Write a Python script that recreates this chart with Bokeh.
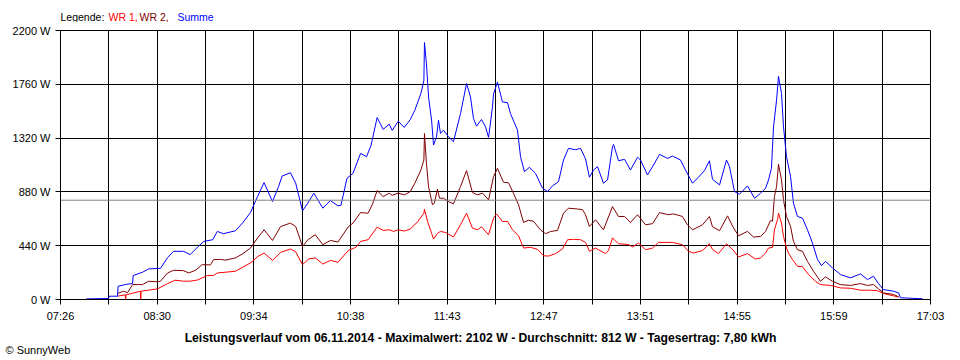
from bokeh.plotting import figure
from bokeh.layouts import column
from bokeh.models import (Range1d, FixedTicker, CustomJSTickFormatter,
                          PrintfTickFormatter, Span, Label)
from bokeh.embed import file_html
from bokeh.resources import INLINE

# ---------------- data ----------------
x_labels = ["07:26", "08:30", "09:34", "10:38", "11:43", "12:47",
            "13:51", "14:55", "15:59", "17:03"]
y_ticks = [0, 440, 880, 1320, 1760, 2200]
avg_w = 812
legend_texts = ["Legende:", "WR 1,", "WR 2,", "Summe"]
legend_colors = ["black", "#FF0000", "#800000", "#0000FF"]
title_text = ("Leistungsverlauf vom 06.11.2014 - Maximalwert: 2102 W - "
              "Durchschnitt: 812 W - Tagesertrag: 7,80 kWh")
copyright_text = "\u00a9 SunnyWeb"

# Summe (minutes after midnight, W)
sum_t = [463.2, 477.8, 478.5, 483.8, 484.2, 490, 493.8, 494.2, 500.4, 504.4,
         512.3, 517, 521, 527.6, 532, 537, 541, 547, 550, 554,
         562, 566.7, 572, 576.7, 581, 586.6, 590.6, 593, 598.5, 602,
         606.5, 610, 614, 620, 625, 630, 632, 636, 640, 645,
         649, 652, 656, 660, 664, 666, 670, 674, 678, 681,
         685, 687, 687.4, 688.7, 690.1, 692.1, 693.4, 695.4, 696.7, 698,
         700, 703.3, 706.6, 711.3, 715.3, 717.9, 719.9, 721.9, 725.2, 727.9,
         729.9, 732.5, 733.2, 735.8, 739.1, 742.5, 744.4, 749.1, 751.1, 753.7,
         757, 761, 765.7, 769, 772.3, 776.3, 779.6, 782.9, 787.6, 790.9,
         794.2, 796.8, 799.5, 802.2, 806.1, 808.8, 812.1, 812.8, 816.1, 820.1,
         824, 828.7, 830.7, 835.3, 839.3, 843.3, 848.6, 851.9, 857.2, 860.5,
         865.2, 869.1, 873.1, 876.4, 878.4, 883.1, 887.7, 889.7, 893, 896.3,
         901.6, 906.3, 910.3, 913.6, 915.6, 917.5, 918.9, 920.9, 922.2, 924.2,
         925.5, 927.5, 930.2, 932.1, 934.8, 938.1, 941.4, 944.7, 948.1, 950.7,
         953.4, 958, 963.3, 969.9, 976.6, 981.2, 985.2, 988.5, 991.8, 998.5,
         1001.8, 1003.1, 1017.7]
sum_w = [5, 8, 27, 27, 108, 125, 130, 196, 223, 250,
         255, 342, 394, 394, 367, 429, 475, 489, 557, 538,
         562, 625, 711, 842, 956, 801, 923, 1010, 1037, 951,
         725, 788, 869, 747, 809, 766, 770, 991, 1032, 1195,
         1168, 1263, 1488, 1391, 1434, 1383, 1458, 1407, 1472, 1548,
         1684, 1792, 2102, 1928, 1657, 1467, 1263, 1330, 1467, 1358,
         1385, 1331, 1290, 1521, 1766, 1657, 1480, 1418, 1472, 1412,
         1326, 1575, 1680, 1779, 1616, 1610, 1521, 1385, 1168, 1046,
         1081, 1032, 910, 883, 929, 964, 1141, 1236, 1225, 1236,
         1150, 1000, 1059, 1086, 951, 978, 1249, 1268, 1135, 1146,
         1059, 1163, 1140, 1018, 1100, 1187, 1154, 1173, 1141, 1059,
         951, 1000, 1054, 1135, 983, 937, 1141, 1086, 883, 861,
         929, 828, 869, 910, 978, 1073, 1412, 1630, 1825, 1684,
         1412, 1168, 1005, 788, 679, 665, 570, 462, 326, 277,
         312, 258, 204, 177, 209, 163, 190, 130, 81, 68,
         54, 14, 6]

# WR 2
wr2_t = [483.8, 487.8, 490.4, 493.8, 500.4, 504.4, 510.3, 512.3, 517, 521,
         527.6, 531, 535.5, 540, 545.5, 547.5, 552, 555.4, 562, 567,
         572, 576.7, 581, 586.6, 592, 598.5, 602, 606.5, 610, 615,
         620, 625, 630, 637, 640, 645, 650, 653, 656, 660,
         664, 666, 670, 674, 678, 681, 685, 687, 687.4, 688.7,
         690.1, 692.7, 694, 696, 697.4, 700, 703.3, 706.6, 711.3, 715.3,
         719.2, 722.6, 725.9, 729.9, 733.2, 735.8, 739.8, 743.1, 746.4, 749.8,
         753.1, 756.4, 759.7, 764.3, 767.7, 771, 775.6, 779.6, 782.9, 788.9,
         792.2, 794.2, 796.8, 800.8, 806.1, 812.1, 816.1, 820.1, 824, 828.7,
         834, 838.6, 843.3, 849.2, 852.6, 858.5, 861.8, 865.2, 871.8, 876.4,
         878.4, 883.1, 888.4, 891.7, 895.7, 901.6, 905.6, 910.3, 913.6, 916.9,
         918.2, 919.5, 920.9, 922.2, 924.2, 925.5, 927.5, 930.2, 932.1, 934.8,
         938.1, 941.4, 945.4, 950, 953.4, 958, 963.3, 969.9, 976.6, 981.2,
         985.2, 988.5, 991.8, 998.5, 1001.8]
wr2_w = [49, 68, 55, 122, 122, 149, 145, 149, 217, 239,
         236, 217, 239, 285, 283, 326, 328, 322, 340, 375,
         421, 503, 570, 483, 597, 625, 597, 434, 488, 530,
         448, 483, 470, 597, 625, 711, 706, 782, 891, 842,
         869, 852, 870, 855, 883, 951, 1059, 1141, 1358, 1114,
         923, 774, 790, 902, 828, 828, 801, 782, 923, 1054,
         875, 856, 870, 815, 1005, 1073, 959, 955, 869, 774,
         630, 648, 640, 570, 538, 556, 565, 706, 747, 740,
         735, 693, 597, 652, 570, 760, 679, 679, 630, 693,
         611, 620, 711, 693, 700, 679, 611, 570, 611, 679,
         595, 563, 684, 600, 521, 557, 511, 516, 557, 646,
         640, 842, 923, 1106, 978, 815, 679, 597, 475, 407,
         394, 312, 231, 149, 185, 149, 122, 115, 130, 115,
         122, 87, 54, 41, 22]

# WR 1
wr1_t = [483.8, 488.9, 489.2, 489.5, 490.4, 499, 499.2, 499.5, 510.3, 517,
         522, 527.6, 532, 537, 543.5, 547.5, 550, 562, 572, 577,
         581, 586.6, 592, 598.5, 602, 606.5, 610.5, 615, 620, 625,
         630, 637, 642, 645, 650, 656, 660, 664, 667, 670,
         674, 678, 683, 687, 687.4, 689.4, 692.1, 693.4, 696, 698,
         701.3, 706.6, 711.3, 715.3, 719.2, 722.6, 725.2, 729.9, 733.2, 735.2,
         739.1, 742.5, 745.8, 749.8, 753.1, 757.7, 762.4, 766.3, 769.6, 774.3,
         778.9, 782.3, 786.2, 790.9, 794.2, 796.8, 800.8, 807.5, 809.4, 812.1,
         816.1, 822.7, 825.4, 829.3, 834, 838.6, 842.6, 851.9, 858.5, 862.5,
         865.8, 871.8, 876.4, 878.4, 882.4, 887.7, 891.7, 895.7, 901.6, 906.9,
         910.3, 913.6, 915.6, 918.2, 919.5, 921.5, 922.2, 924.2, 925.5, 927.5,
         928.8, 931.5, 934.8, 938.1, 942.1, 946.7, 950, 956.7, 963.3, 969.9,
         976.6, 983.2, 987.9, 991.8, 998.5, 1001.8]
wr1_w = [27, 38, 0, 40, 41, 68, 0, 68, 87, 130,
         158, 150, 150, 160, 196, 196, 217, 231, 299, 353,
         380, 320, 386, 413, 390, 285, 331, 340, 290, 320,
         305, 402, 427, 475, 489, 592, 565, 570, 557, 570,
         560, 576, 638, 706, 739, 640, 543, 494, 540, 557,
         548, 511, 611, 706, 584, 570, 594, 530, 666, 700,
         638, 638, 570, 521, 421, 427, 410, 358, 355, 375,
         413, 489, 492, 489, 467, 394, 421, 375, 400, 503,
         456, 450, 430, 462, 407, 420, 467, 467, 448, 394,
         380, 400, 456, 410, 375, 456, 410, 348, 375, 331,
         340, 380, 421, 426, 570, 652, 706, 625, 516, 421,
         380, 326, 272, 268, 204, 149, 122, 115, 95, 92,
         76, 76, 72, 49, 30, 20]

# ---------------- helpers ----------------
def hm(s):
    h, m = s.split(":")
    return int(h) * 60 + int(m)

t0 = hm(x_labels[0])
t1 = hm(x_labels[-1])
dt = (t1 - t0) / (len(x_labels) - 1)
major = [t0 + i * dt for i in range(len(x_labels))]
minor = [t0 + (i + 0.5) * dt for i in range(len(x_labels) - 1)]

FONT = "Liberation Sans"
W = 960


def text_strip(height):
    f = figure(width=W, height=height, output_backend="svg",
               toolbar_location=None, x_axis_location=None,
               y_axis_location=None, x_range=Range1d(0, 1),
               y_range=Range1d(0, 1), min_border=0, frame_align=False)
    f.outline_line_color = None
    f.background_fill_color = "white"
    f.border_fill_color = "white"
    f.grid.visible = False
    return f


# ---------------- top strip: legend ----------------
top = text_strip(22)
legend_x = [60, 108, 139, 177]
for txt, col, lx in zip(legend_texts, legend_colors, legend_x):
    top.add_layout(Label(x=lx, y=6, x_units="screen", y_units="screen",
                         text=txt, text_color=col, text_font=FONT,
                         text_font_size="10.5px", text_baseline="middle",
                         text_align="left"))

# ---------------- main chart ----------------
p = figure(width=W, height=302, output_backend="svg", toolbar_location=None,
           x_range=Range1d(t0, t1), y_range=Range1d(y_ticks[0], y_ticks[-1]),
           min_border_left=60, min_border_right=30, min_border_top=8,
           min_border_bottom=24, frame_align=False)
p.background_fill_color = "white"
p.border_fill_color = "white"
p.outline_line_color = "black"
p.outline_line_width = 1

xt = FixedTicker(ticks=major, minor_ticks=minor)
p.xaxis.ticker = xt
p.xaxis.formatter = CustomJSTickFormatter(
    args=dict(labels=x_labels, t0=t0, dt=dt),
    code="const i = Math.round((tick - t0) / dt); return labels[i] ?? '';")
p.xgrid.ticker = xt
p.xgrid.grid_line_color = "black"
p.xgrid.grid_line_alpha = 1
p.xgrid.minor_grid_line_color = "black"
p.xgrid.minor_grid_line_alpha = 1

yt = FixedTicker(ticks=y_ticks)
p.yaxis.ticker = yt
p.yaxis.formatter = PrintfTickFormatter(format="%d W")
p.ygrid.ticker = yt
p.ygrid.grid_line_color = "black"
p.ygrid.grid_line_alpha = 1

for ax in (p.xaxis, p.yaxis):
    ax.axis_line_color = "black"
    ax.major_tick_line_color = "black"
    ax.minor_tick_line_color = "black"
    ax.major_tick_out = 5
    ax.major_tick_in = 0
    ax.minor_tick_out = 5
    ax.minor_tick_in = 0
    ax.major_label_text_font = FONT
    ax.major_label_text_font_size = "11px"
    ax.major_label_text_color = "black"
    ax.major_label_standoff = 5

p.add_layout(Span(location=avg_w, dimension="width", line_color="#808080",
                  line_width=1))

p.line(wr1_t, wr1_w, line_color="#FF0000", line_width=1)
p.line(wr2_t, wr2_w, line_color="#800000", line_width=1)
p.line(sum_t, sum_w, line_color="#0000FF", line_width=1)

# ---------------- bottom strip: title + copyright ----------------
bottom = text_strip(36)
bottom.add_layout(Label(x=480, y=23, x_units="screen", y_units="screen",
                        text=title_text, text_font=FONT,
                        text_font_size="12.2px", text_font_style="bold",
                        text_align="center", text_baseline="middle",
                        text_color="black"))
bottom.add_layout(Label(x=5, y=11, x_units="screen", y_units="screen",
                        text=copyright_text, text_font=FONT,
                        text_font_size="11px", text_align="left",
                        text_baseline="middle", text_color="black"))

layout = column(top, p, bottom, spacing=0)
open("out.html", "w").write(file_html(layout, INLINE))
